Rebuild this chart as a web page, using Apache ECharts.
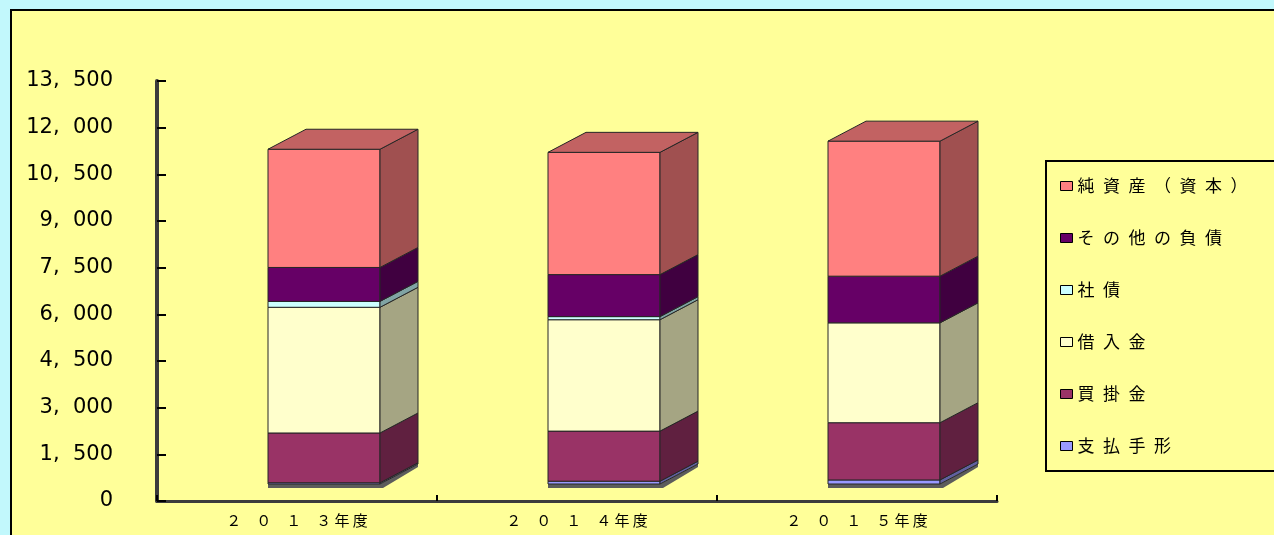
<!DOCTYPE html>
<html><head><meta charset="utf-8">
<script src="https://cdn.jsdelivr.net/npm/echarts@6/dist/echarts.min.js"></script>
<style>
html,body{margin:0;padding:0;background:#C2F8FC;width:1274px;height:535px;overflow:hidden;}
#panel{position:absolute;left:10px;top:9px;width:1300px;height:600px;background:#FFFF99;border:2px solid #000;box-sizing:border-box;}
#chart{position:absolute;left:0;top:0;width:1274px;height:535px;}
</style></head><body>
<div id="panel"></div><div id="chart"></div>
<script>
// ---- data ----
const categories = ['２０１３年度', '２０１４年度', '２０１５年度'];
const seriesNames = ['支払手形', '買掛金', '借入金', '社債', 'その他の負債', '純資産（資本）'];
const shiharaiTegata = [40, 90, 130];
const kaikakekin = [1600, 1610, 1840];
const kariirekin = [4040, 3580, 3210];
const shasai = [190, 100, 0];
const sonotaFusai = [1090, 1350, 1500];
const junShisan = [3800, 3930, 4340];
const yMin = 0, yMax = 13500, yStep = 1500;

// ---- styles ----
const frontColors = ['#9999FF', '#993366', '#FFFFCC', '#CCFFFF', '#660066', '#FF8080'];
const sideColors  = ['#6060A0', '#602040', '#A5A583', '#80A4A4', '#400040', '#A05050'];
const topColor = '#C26262';
const EDGE = '#262626';
const BAR_RATIO = 0.4, OFF_X = 27, OFF_Y = -17, DX = 38, DY = -20;

const valueSets = [shiharaiTegata, kaikakekin, kariirekin, shasai, sonotaFusai, junShisan];

function makeRender(si) {
  return function (params, api) {
    const xi = api.value(0), b = api.value(1), t = api.value(2);
    const pb = api.coord([xi, b]), pt = api.coord([xi, t]);
    const band = api.size([1, 0])[0];
    const w = band * BAR_RATIO;
    const cx = pb[0] + OFF_X;
    const xl = cx - w / 2, xr = cx + w / 2;
    const yb = pb[1] + OFF_Y, yt = pt[1] + OFF_Y;
    const children = [];
    if (si === 0) {
      children.push({type: 'polygon', shape: {points: [[xl, yb], [xr, yb], [xr + DX, yb + DY], [xr + DX, yb + DY + 3], [xr + 3, yb + 4], [xl, yb + 4]]},
        style: {fill: '#5C5C5C', stroke: null}});
    }
    if (yb - yt > 0.01) {
      children.push({type: 'rect', shape: {x: xl, y: yt, width: w, height: yb - yt},
        style: {fill: frontColors[si], stroke: EDGE, lineWidth: 1}});
      children.push({type: 'polygon', shape: {points: [[xr, yb], [xr, yt], [xr + DX, yt + DY], [xr + DX, yb + DY]]},
        style: {fill: sideColors[si], stroke: EDGE, lineWidth: 1}});
    }
    if (si === valueSets.length - 1) {
      children.push({type: 'polygon', shape: {points: [[xl, yt], [xr, yt], [xr + DX, yt + DY], [xl + DX, yt + DY]]},
        style: {fill: topColor, stroke: EDGE, lineWidth: 1}});
    }
    return {type: 'group', children: children};
  };
}

const series = valueSets.map(function (vals, si) {
  const data = vals.map(function (v, i) {
    let base = 0;
    for (let k = 0; k < si; k++) base += valueSets[k][i];
    return [i, base, base + v];
  });
  return {
    type: 'custom', name: seriesNames[si],
    itemStyle: {color: frontColors[si]},
    encode: {x: 0, y: [1, 2]},
    renderItem: makeRender(si),
    data: data, z: 2 + si
  };
});

function fmtY(v) {
  if (v < 1000) return String(v);
  const th = Math.floor(v / 1000), r = v % 1000;
  return th + ',  ' + String(r).padStart(3, '0');
}
function fmtX(c) {
  const m = c.match(/^(.*?)(年度)$/);
  if (!m) return c;
  return Array.from(m[1]).join('\u3000') + ' ' + Array.from(m[2]).join(' ');
}

const chart = echarts.init(document.getElementById('chart'), null, {renderer: 'canvas'});
chart.setOption({
  backgroundColor: 'transparent',
  animation: false,
  textStyle: {fontFamily: 'Noto Sans CJK JP'},
  grid: {left: 157, top: 81, width: 840, height: 420, containLabel: false},
  xAxis: {
    type: 'category', data: categories,
    axisLine: {lineStyle: {color: '#3C3C3C', width: 3}},
    axisTick: {show: true, inside: true, length: 6, alignWithLabel: false, lineStyle: {color: '#000', width: 2}},
    axisLabel: {margin: 12, color: '#000', fontSize: 15, fontFamily: 'Noto Sans CJK JP', formatter: fmtX},
    splitLine: {show: false}
  },
  yAxis: {
    type: 'value', min: yMin, max: yMax, interval: yStep,
    axisLine: {show: true, lineStyle: {color: '#3C3C3C', width: 4}},
    axisTick: {show: true, inside: true, length: 9, lineStyle: {color: '#000', width: 2}},
    axisLabel: {margin: 44, color: '#000', fontSize: 21, fontFamily: 'DejaVu Sans', formatter: fmtY},
    splitLine: {show: false}
  },
  legend: {
    orient: 'vertical', left: 1046, top: 161,
    padding: [15, 60, 15, 14],
    borderColor: '#000', borderWidth: 2,
    icon: 'rect', itemWidth: 12, itemHeight: 9, itemGap: 32,
    itemStyle: {borderColor: '#000', borderWidth: 1},
    textStyle: {fontSize: 17, color: '#000', lineHeight: 20, fontFamily: 'Noto Sans CJK JP'},
    formatter: function (n) { return Array.from(n).join('\u2002'); },
    data: seriesNames.slice().reverse()
  },
  series: series
});
</script>
</body></html>
